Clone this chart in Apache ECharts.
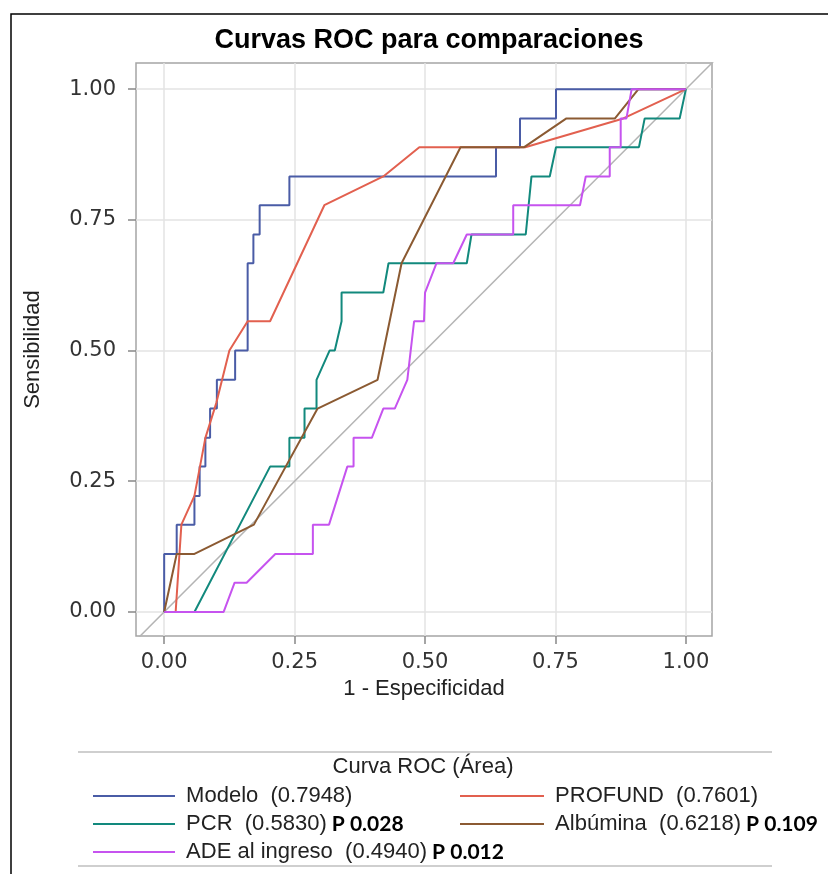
<!DOCTYPE html>
<html lang="es">
<head>
    <meta charset="UTF-8">
    <title>Curvas ROC</title>
    <style>
        html, body { margin: 0; padding: 0; background: #fff; }
        #main { width: 828px; height: 874px; }
    </style>
    <script src="https://cdn.jsdelivr.net/npm/echarts@6/dist/echarts.min.js"></script>
</head>
<body>
<div id="main"></div>
<script type="text/javascript">
    // ejes
    var ticks = [0, 0.25, 0.5, 0.75, 1];

    // leyenda
    var names = ['Modelo', 'PROFUND', 'PCR', 'Albúmina', 'ADE al ingreso'];
    var areas = ['0.7948', '0.7601', '0.5830', '0.6218', '0.4940'];
    var pvals = ['', '', 'P 0.028', 'P 0.109', 'P 0.012'];
    var colors = ['#4a5ca6', '#e2604f', '#12897d', '#8b5a32', '#c653ef'];

    // puntos de cada curva [1 - especificidad, sensibilidad]
    var modelo = [[0, 0], [0, 0.111], [0.024, 0.111], [0.024, 0.167], [0.058, 0.167], [0.058, 0.222],
        [0.068, 0.222], [0.068, 0.278], [0.079, 0.278], [0.079, 0.333], [0.088, 0.333], [0.088, 0.389],
        [0.101, 0.389], [0.101, 0.444], [0.136, 0.444], [0.136, 0.5], [0.16, 0.5], [0.16, 0.667],
        [0.171, 0.667], [0.171, 0.722], [0.183, 0.722], [0.183, 0.778], [0.24, 0.778], [0.24, 0.833],
        [0.636, 0.833], [0.636, 0.889], [0.682, 0.889], [0.682, 0.944], [0.751, 0.944], [0.751, 1], [1, 1]];
    var profund = [[0, 0], [0.022, 0], [0.033, 0.167], [0.058, 0.222], [0.079, 0.333], [0.1, 0.4],
        [0.125, 0.5], [0.16, 0.556], [0.203, 0.556], [0.307, 0.778], [0.42, 0.833], [0.489, 0.889],
        [0.692, 0.889], [0.88, 0.944], [1, 1]];
    var pcr = [[0, 0], [0.058, 0], [0.203, 0.278], [0.24, 0.278], [0.24, 0.333], [0.269, 0.333],
        [0.269, 0.389], [0.292, 0.389], [0.292, 0.444], [0.317, 0.5], [0.327, 0.5], [0.34, 0.556],
        [0.34, 0.611], [0.42, 0.611], [0.43, 0.667], [0.58, 0.667], [0.589, 0.722], [0.693, 0.722],
        [0.704, 0.833], [0.739, 0.833], [0.751, 0.889], [0.91, 0.889], [0.921, 0.944], [0.988, 0.944], [1, 1]];
    var albumina = [[0, 0], [0.024, 0.111], [0.058, 0.111], [0.172, 0.167], [0.294, 0.389], [0.409, 0.444],
        [0.455, 0.667], [0.568, 0.889], [0.69, 0.889], [0.771, 0.944], [0.864, 0.944], [0.909, 1], [1, 1]];
    var ade = [[0, 0], [0.114, 0], [0.135, 0.056], [0.158, 0.056], [0.213, 0.111], [0.285, 0.111],
        [0.285, 0.167], [0.316, 0.167], [0.351, 0.278], [0.363, 0.278], [0.363, 0.333], [0.398, 0.333],
        [0.42, 0.389], [0.442, 0.389], [0.466, 0.444], [0.479, 0.556], [0.498, 0.556], [0.5, 0.611],
        [0.522, 0.667], [0.554, 0.667], [0.58, 0.722], [0.669, 0.722], [0.669, 0.778], [0.797, 0.778],
        [0.808, 0.833], [0.854, 0.833], [0.854, 0.889], [0.875, 0.889], [0.875, 0.944], [0.886, 0.944],
        [0.896, 1], [1, 1]];
    var diagonal = [[-0.1, -0.1], [1.1, 1.1]];

    var curves = [modelo, profund, pcr, albumina, ade];

    var myChart = echarts.init(document.getElementById('main'));

    function legendText(name) {
        var i = names.indexOf(name);
        var s = '{n| ' + name + '  (' + areas[i] + ')}';
        if (pvals[i]) s += '{p| ' + pvals[i] + '}';
        return s;
    }

    var legendStyle = {
        fontFamily: 'Liberation Sans',
        fontSize: 22,
        color: '#222',
        rich: {
            n: { fontFamily: 'Liberation Sans', fontSize: 22, color: '#222' },
            p: { fontFamily: 'Lato', fontWeight: 'bold', fontSize: 21, color: '#000' }
        }
    };

    var series = curves.map(function (d, i) {
        return {
            name: names[i],
            type: 'line',
            data: d,
            symbol: 'none',
            z: 3,
            lineStyle: { color: colors[i], width: 2 },
            itemStyle: { color: colors[i] }
        };
    });
    series.unshift({
        name: 'ref',
        type: 'line',
        data: diagonal,
        symbol: 'none',
        silent: true,
        z: 2,
        lineStyle: { color: '#b4b4b4', width: 1.5 }
    });

    var axisCommon = {
        type: 'value',
        axisLine: { show: false, onZero: false },
        axisTick: { show: true, length: 8, customValues: ticks, lineStyle: { color: '#888', width: 1.5 } },
        axisLabel: {
            customValues: ticks,
            fontFamily: 'DejaVu Sans',
            fontSize: 21,
            color: '#333',
            formatter: function (v) { return v.toFixed(2); }
        },
        splitLine: { show: true, lineStyle: { color: '#e3e3e3', width: 1.5 } },
        nameLocation: 'middle',
        nameTextStyle: { fontFamily: 'Liberation Sans', fontSize: 22, color: '#222' }
    };

    var legendCommon = {
        orient: 'vertical',
        top: 780,
        icon: 'rect',
        itemHeight: 2, itemGap: 6,
        selectedMode: false,
        formatter: legendText,
        textStyle: legendStyle
    };

    option = {
        animation: false,
        title: {
            text: 'Curvas ROC para comparaciones',
            left: 424,
            top: 22,
            textAlign: 'center',
            textStyle: { fontFamily: 'Liberation Sans', fontWeight: 'bold', fontSize: 27, color: '#000' }
        },
        grid: {
            left: 136, top: 63, width: 576, height: 573,
            show: true, borderColor: '#a5a5a5', borderWidth: 1.5
        },
        xAxis: Object.assign({}, axisCommon, {
            min: -0.054, max: 1.05,
            name: '1 - Especificidad',
            nameGap: 42,
            axisLabel: Object.assign({}, axisCommon.axisLabel, { margin: 16 })
        }),
        yAxis: Object.assign({}, axisCommon, {
            min: -0.046, max: 1.05,
            name: 'Sensibilidad',
            nameGap: 92,
            axisLabel: Object.assign({}, axisCommon.axisLabel, { margin: 20 })
        }),
        legend: [
            Object.assign({}, legendCommon, { data: ['Modelo', 'PCR', 'ADE al ingreso'], left: 88, itemWidth: 82 }),
            Object.assign({}, legendCommon, { data: ['PROFUND', 'Albúmina'], left: 455, itemWidth: 84 })
        ],
        graphic: [
            { type: 'rect', shape: { x: 11, y: 14, width: 900, height: 900 },
              style: { fill: 'none', stroke: '#000', lineWidth: 1.5 }, silent: true },
            { type: 'line', shape: { x1: 78, y1: 752, x2: 772, y2: 752 },
              style: { stroke: '#cfcfcf', lineWidth: 2 }, silent: true },
            { type: 'line', shape: { x1: 78, y1: 866, x2: 772, y2: 866 },
              style: { stroke: '#cfcfcf', lineWidth: 2 }, silent: true },
            { type: 'text', x: 423, y: 767,
              style: { text: 'Curva ROC (Área)', fontFamily: 'Liberation Sans', fontSize: 22, fill: '#222',
                       textAlign: 'center', textVerticalAlign: 'middle' }, silent: true }
        ],
        series: series
    };
    myChart.setOption(option);
</script>
</body>
</html>
